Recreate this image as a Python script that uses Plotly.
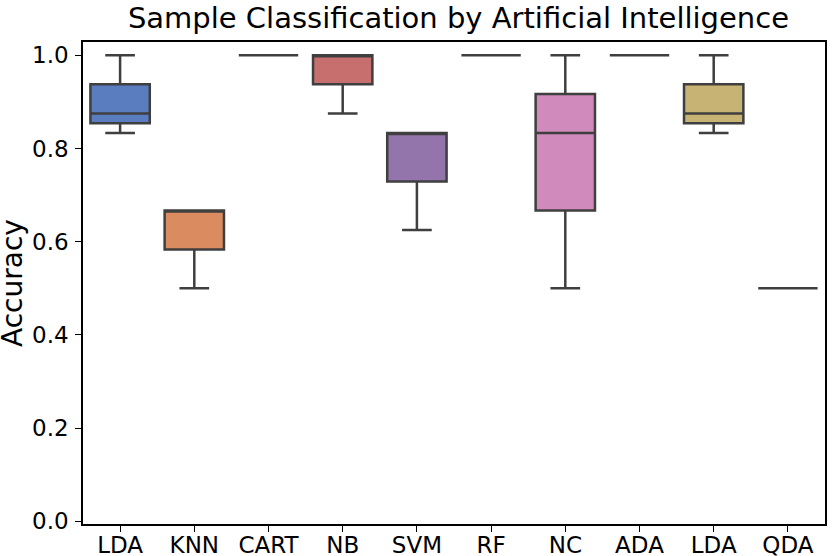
import plotly.graph_objects as go

categories = ["LDA", "KNN", "CART", "NB", "SVM", "RF", "NC", "ADA", "LDA", "QDA"]
q1_vals = [0.854, 0.583, 1.0, 0.938, 0.729, 1.0, 0.667, 1.0, 0.854, 0.5]
median_vals = [0.875, 0.667, 1.0, 1.0, 0.833, 1.0, 0.833, 1.0, 0.875, 0.5]
q3_vals = [0.938, 0.667, 1.0, 1.0, 0.833, 1.0, 0.917, 1.0, 0.938, 0.5]
lower_vals = [0.833, 0.5, 1.0, 0.875, 0.625, 1.0, 0.5, 1.0, 0.833, 0.5]
upper_vals = [1.0, 0.667, 1.0, 1.0, 0.833, 1.0, 1.0, 1.0, 1.0, 0.5]

colors = ["#597dbf", "#da8b5f", "#6cb368", "#c76e6e", "#9475ab",
          "#86644a", "#d08abb", "#7a7a7a", "#c7b475", "#8cbfd4"]
line_color = "#3f3f3f"

fig = go.Figure()
for i, cat in enumerate(categories):
    fig.add_trace(go.Box(
        x=[i], q1=[q1_vals[i]], median=[median_vals[i]], q3=[q3_vals[i]],
        lowerfence=[lower_vals[i]], upperfence=[upper_vals[i]],
        width=0.8, whiskerwidth=0.5,
        fillcolor=colors[i],
        line=dict(color=line_color, width=2.5),
        boxpoints=False, name=cat, showlegend=False, hoverinfo="skip",
    ))

font_family = "DejaVu Sans"
fig.update_layout(
    width=832, height=556,
    margin=dict(l=83, r=7, t=42, b=32),
    paper_bgcolor="white", plot_bgcolor="white",
    boxmode="overlay",
    font=dict(family=font_family, color="black", size=23),
    title=dict(text="Sample Classification by Artificial Intelligence",
               x=0.506, xref="paper", xanchor="center",
               y=0.967, yanchor="middle",
               font=dict(size=29, family=font_family, color="black")),
    xaxis=dict(
        range=[-0.5, 9.5], tickmode="array", tickvals=list(range(len(categories))),
        ticktext=categories, showgrid=False, zeroline=False, automargin=False,
        showline=True, linecolor="black", linewidth=1.6, mirror=True,
        ticks="outside", ticklen=6, tickwidth=1.3, tickcolor="black",
        tickfont=dict(size=23), ticklabelstandoff=-6,
    ),
    yaxis=dict(
        range=[-0.006, 1.0285], tickmode="array",
        tickvals=[0.0, 0.2, 0.4, 0.6, 0.8, 1.0],
        ticktext=["0.0", "0.2", "0.4", "0.6", "0.8", "1.0"],
        showgrid=False, zeroline=False, automargin=False,
        showline=True, linecolor="black", linewidth=1.6, mirror=True,
        ticks="outside", ticklen=6, tickwidth=1.3, tickcolor="black",
        tickfont=dict(size=23), ticklabelstandoff=2,
    ),
    annotations=[dict(
        text="Accuracy", textangle=-90, xref="paper", yref="paper",
        x=-0.0957, y=0.5, xanchor="center", yanchor="middle",
        showarrow=False, font=dict(size=28, family=font_family, color="black"),
    )],
)

fig.write_html("out.html",
               config={"displayModeBar": False},
               post_script="document.body.style.margin='0';document.body.style.overflow='hidden';")
